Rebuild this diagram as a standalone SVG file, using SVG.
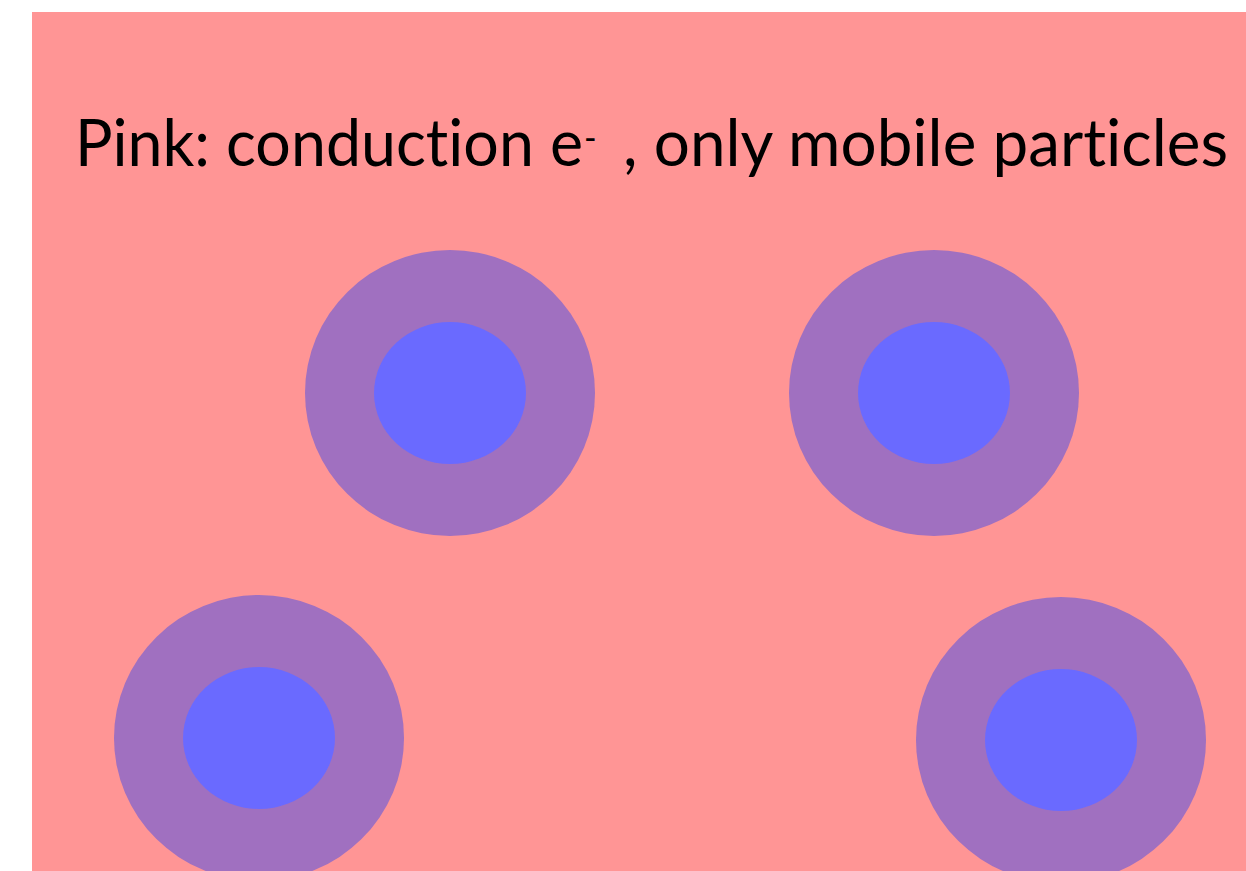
<svg xmlns="http://www.w3.org/2000/svg" width="1246" height="871" viewBox="0 0 1246 871">
  <style>
    .bg { fill: #ffffff; }
    .field { fill: #ff9595; }
    .shell { fill: #a070c0; }
    .core { fill: #6a6aff; }
    .label { font-family: Lato, "Open Sans", "Liberation Sans", sans-serif; font-size: 66px; fill: #000000; font-variant-ligatures: none; }
    .sup { font-family: Lato, "Open Sans", "Liberation Sans", sans-serif; font-size: 34px; fill: #000000; }
  </style>
  <rect class="bg" x="0" y="0" width="1246" height="871"/>
  <!-- sea of conduction electrons -->
  <rect id="electron-sea" class="field" x="32" y="12" width="1214" height="859"/>

  <g id="caption">
    <text class="label" x="75" y="166" textLength="508" lengthAdjust="spacingAndGlyphs">Pink: conduction e</text>
    <text class="sup" x="584" y="150">-</text>
    <text class="label" x="623" y="166" textLength="605" lengthAdjust="spacingAndGlyphs">, only mobile particles</text>
  </g>

  <!-- ion cores: bound shell around nucleus -->
  <g id="ion-1">
    <ellipse class="shell" cx="450" cy="393" rx="145" ry="143"/>
    <ellipse class="core" cx="450" cy="393" rx="76" ry="71"/>
  </g>
  <g id="ion-2">
    <ellipse class="shell" cx="934" cy="393" rx="145" ry="143"/>
    <ellipse class="core" cx="934" cy="393" rx="76" ry="71"/>
  </g>
  <g id="ion-3">
    <ellipse class="shell" cx="259" cy="738" rx="145" ry="143"/>
    <ellipse class="core" cx="259" cy="738" rx="76" ry="71"/>
  </g>
  <g id="ion-4">
    <ellipse class="shell" cx="1061" cy="740" rx="145" ry="143"/>
    <ellipse class="core" cx="1061" cy="740" rx="76" ry="71"/>
  </g>
</svg>
